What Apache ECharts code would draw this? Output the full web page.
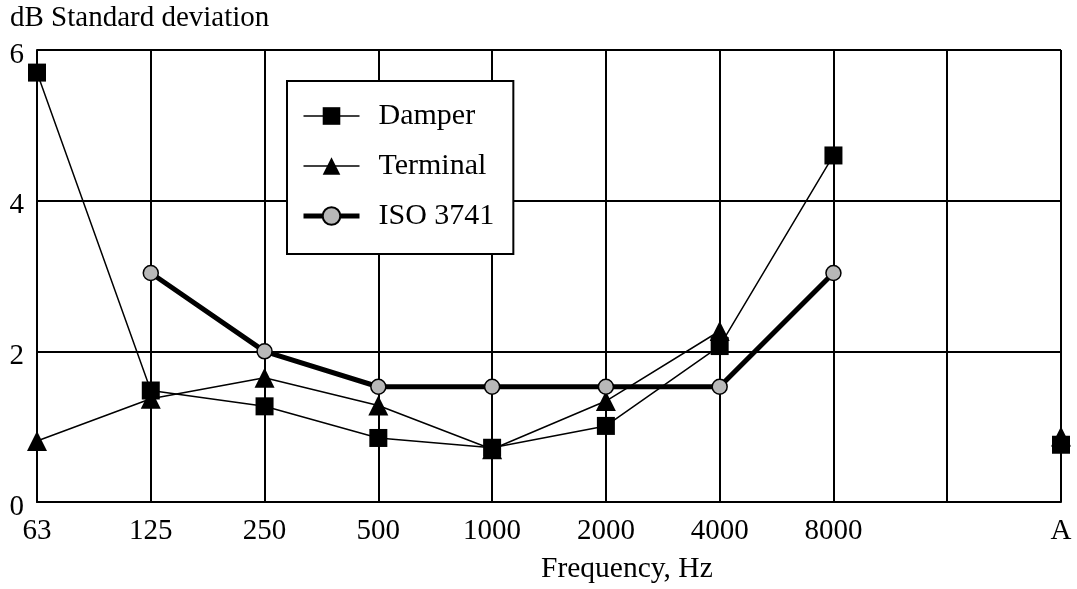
<!DOCTYPE html>
<html>
<head>
<meta charset="utf-8">
<script src="https://cdn.jsdelivr.net/npm/echarts@6/dist/echarts.min.js"></script>
<style>
html,body{margin:0;padding:0;background:#fff;}
#main{width:1077px;height:589px;}
</style>
</head>
<body>
<div id="main"></div>
<script>
const categories = ['63','125','250','500','1000','2000','4000','8000','','A'];
const damper   = [5.70, 1.48, 1.27, 0.85, 0.72, 1.01, 2.07, 4.60, null, 0.76];
const terminal = [0.81, 1.37, 1.65, 1.28, 0.70, 1.34, 2.27, null, null, 0.87];
const iso3741  = [null, 3.04, 2.00, 1.53, 1.53, 1.53, 1.53, 3.04, null, null];
const yTicks = [0, 2, 4, 6];

const FONT = '"Liberation Serif", "Times New Roman", serif';
const chart = echarts.init(document.getElementById('main'));
chart.setOption({
  backgroundColor: '#fff',
  animation: false,
  title: [
    { text: 'dB Standard deviation', left: 5, top: -1,
      textStyle: { fontFamily: FONT, fontSize: 29, fontWeight: 'normal', color: '#000' } },
    { text: 'Frequency, Hz', left: 536, top: 549,
      textStyle: { fontFamily: FONT, fontSize: 29.5, fontWeight: 'normal', color: '#000' } }
  ],
  grid: { left: 37, right: 16, top: 50, bottom: 87, containLabel: false },
  legend: {
    orient: 'vertical',
    left: 287, top: 81,
    padding: [20, 19, 23, 14],
    itemWidth: 56, itemHeight: 22, itemGap: 20,
    backgroundColor: '#fff',
    borderColor: '#000', borderWidth: 2,
    lineStyle: { width: 'inherit' },
    textStyle: { fontFamily: FONT, fontSize: 30, color: '#000', lineHeight: 30, padding: [0, 0, 0, 14] },
    data: [
      { name: 'Damper' },
      { name: 'Terminal' },
      { name: 'ISO 3741', lineStyle: { width: 5 } }
    ]
  },
  xAxis: {
    type: 'category',
    data: categories,
    boundaryGap: false,
    axisLine: { lineStyle: { color: '#000', width: 2 } },
    axisTick: { show: false },
    axisLabel: { fontFamily: FONT, fontSize: 29, color: '#000', margin: 15, interval: 0 },
    splitLine: { show: true, interval: 0, lineStyle: { color: '#000', width: 2 } }
  },
  yAxis: {
    type: 'value',
    min: 0, max: 6, interval: 2,
    axisLine: { show: true, lineStyle: { color: '#000', width: 2 } },
    axisTick: { show: false },
    axisLabel: { color: '#000', margin: 13,
      formatter: v => yTicks.includes(v) ? '{n|' + v + '}' : '',
      rich: { n: { fontFamily: FONT, fontSize: 29, color: '#000', lineHeight: 29, padding: [10, 0, 0, 0] } } },
    splitLine: { show: true, lineStyle: { color: '#000', width: 2 } }
  },
  series: [
    {
      name: 'Damper', type: 'line', data: damper,
      symbol: 'rect', symbolSize: 18, showAllSymbol: true,
      connectNulls: false,
      itemStyle: { color: '#000' },
      lineStyle: { color: '#000', width: 1.5 },
      z: 3
    },
    {
      name: 'Terminal', type: 'line', data: terminal,
      symbol: 'triangle', symbolSize: 20, showAllSymbol: true,
      connectNulls: false,
      itemStyle: { color: '#000' },
      lineStyle: { color: '#000', width: 1.5 },
      z: 3
    },
    {
      name: 'ISO 3741', type: 'line', data: iso3741,
      symbol: 'circle', symbolSize: 15, showAllSymbol: true,
      connectNulls: false,
      itemStyle: { color: '#b8b8b8', borderColor: '#000', borderWidth: 1.5 },
      lineStyle: { color: '#000', width: 5 },
      z: 4
    }
  ]
});
</script>
</body>
</html>
